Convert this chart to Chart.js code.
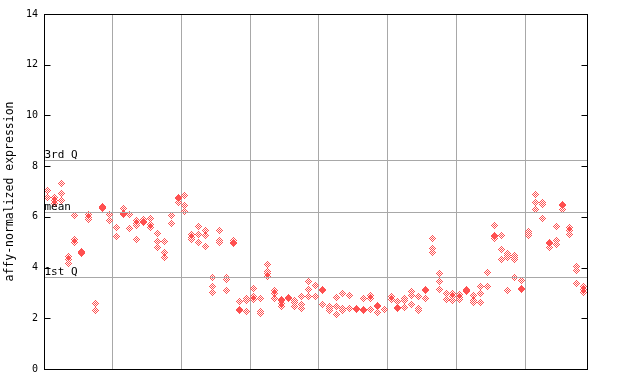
<!DOCTYPE html>
<html>
<head>
<meta charset="utf-8">
<script src="https://cdn.jsdelivr.net/npm/chart.js@4/dist/chart.umd.min.js"></script>
<style>
  html, body { margin: 0; padding: 0; background: #fff; }
  #wrap { width: 640px; height: 384px; }
</style>
</head>
<body>
<div id="wrap"><canvas id="myChart" width="640" height="384"></canvas></div>
<script>
// expression values per sample (replicates)
const expression = [
  [7.05, 6.77], [6.77, 6.64, 6.53], [7.32, 6.93, 6.66], [4.42, 4.32, 4.17],
  [6.06, 5.09, 4.98], [4.65, 4.6, 4.56], [6.1, 5.98, 5.88], [2.59, 2.31],
  [6.42, 6.36, 6.32], [6.1, 5.85], [5.6, 5.58, 5.23], [6.33, 6.12, 6.1],
  [6.11, 5.54], [5.84, 5.74, 5.66, 5.1], [5.88, 5.8, 5.76], [5.93, 5.7, 5.6],
  [5.35, 5.03, 4.8], [5.03, 4.6, 4.39], [6.06, 5.74], [6.76, 6.72, 6.55],
  [6.85, 6.45, 6.22], [5.31, 5.2, 5.11], [5.63, 5.31, 5.0], [5.48, 5.28, 4.84],
  [3.59, 3.24, 3.02], [5.47, 5.08, 5.0], [3.59, 3.51, 3.1], [5.07, 5.0, 4.96],
  [2.67, 2.36, 2.32], [2.77, 2.69, 2.27], [3.18, 2.85, 2.76], [2.79, 2.27, 2.2],
  [4.13, 3.85, 3.77, 3.66], [3.09, 2.98, 2.79], [2.74, 2.7, 2.6, 2.47], [2.83, 2.8, 2.78],
  [2.71, 2.62, 2.47], [2.87, 2.56, 2.39], [3.46, 3.14, 2.87], [3.3, 2.87],
  [3.15, 3.11, 2.55], [2.48, 2.39, 2.31], [2.83, 2.47, 2.16], [2.98, 2.38, 2.31],
  [2.9, 2.39], [2.39, 2.36, 2.34], [2.79, 2.36, 2.32], [2.88, 2.8, 2.35],
  [2.52, 2.48, 2.24], [2.34], [2.84, 2.76], [2.68, 2.44, 2.37],
  [2.8, 2.72, 2.44], [3.04, 2.88, 2.56], [2.84, 2.37, 2.29], [3.15, 3.08, 2.8],
  [5.15, 4.76, 4.6], [3.77, 3.46, 3.14], [2.98, 2.75], [2.98, 2.87, 2.71],
  [2.95, 2.83, 2.75], [3.15, 3.1, 3.06], [2.9, 2.71, 2.63], [3.27, 2.98, 2.63],
  [3.81, 3.26], [5.66, 5.25, 5.21, 5.15], [5.27, 4.72, 4.33], [4.56, 4.48, 4.4, 3.1],
  [4.46, 4.38, 4.3, 3.62], [3.5, 3.18, 3.14], [5.43, 5.35, 5.27], [6.89, 6.57, 6.3],
  [6.58, 6.5, 6.47, 5.94], [5.0, 4.96, 4.8], [5.62, 5.05, 4.92], [6.5, 6.46, 6.3],
  [5.59, 5.48, 5.31], [4.05, 3.89, 3.38], [3.26, 3.14, 3.02]
];

// group separators (between every 10 samples)
const groupLines = [9.5, 19.5, 29.5, 39.5, 49.5, 59.5, 69.5];

// summary lines
const refLines = [
  { label: '3rd Q', value: 8.23 },
  { label: 'mean', value: 6.21 },
  { label: '1st Q', value: 3.63 }
];

const yTicks = [0, 2, 4, 6, 8, 10, 12, 14];
const yTitle = 'affy-normalized expression';

const red = 'rgb(255,80,80)';
const grey = '#a8a8a8';
const mono = "'DejaVu Sans Mono', monospace";

// dithered diamond marker
function makeMarker() {
  var c = document.createElement('canvas');
  c.width = 7; c.height = 7;
  var g = c.getContext('2d');
  g.fillStyle = red;
  for (var py = 0; py < 7; py++) {
    for (var px = 0; px < 7; px++) {
      var d = Math.abs(px - 3) + Math.abs(py - 3);
      if (d <= 3 && d % 2 == 1) g.fillRect(px, py, 1, 1);
    }
  }
  return c;
}
const marker = makeMarker();

let points = [];
expression.forEach(function (vals, i) {
  vals.forEach(function (v) { points.push({ x: i, y: v }); });
});

const framePlugin = {
  id: 'frame',
  beforeDatasetsDraw(chart) {
    chart.ctx.imageSmoothingEnabled = false;
  },
  afterDraw(chart) {
    const ctx = chart.ctx;
    const a = chart.chartArea;
    const y = chart.scales.y;
    const L = Math.round(a.left) + 0.5, R = Math.round(a.right) + 0.5;
    const T = Math.round(a.top) + 0.5, B = Math.round(a.bottom) + 0.5;
    ctx.save();
    // quartile / mean lines
    ctx.strokeStyle = grey;
    ctx.lineWidth = 1;
    refLines.forEach(function (r) {
      const py = Math.round(y.getPixelForValue(r.value)) + 0.5;
      ctx.beginPath();
      ctx.moveTo(L, py); ctx.lineTo(R, py);
      ctx.stroke();
    });
    // frame
    ctx.strokeStyle = '#000';
    ctx.strokeRect(L, T, R - L, B - T);
    // inward ticks
    yTicks.forEach(function (v) {
      const py = Math.round(y.getPixelForValue(v)) + 0.5;
      ctx.beginPath();
      ctx.moveTo(L, py); ctx.lineTo(L + 6, py);
      ctx.moveTo(R - 6, py); ctx.lineTo(R, py);
      ctx.stroke();
    });
    // labels
    ctx.fillStyle = '#000';
    ctx.font = '11px ' + mono;
    ctx.textAlign = 'left';
    ctx.textBaseline = 'bottom';
    refLines.forEach(function (r) {
      const py = Math.round(y.getPixelForValue(r.value));
      ctx.fillText(r.label, L, py + 1);
    });
    ctx.restore();
  }
};

const config = {
  type: 'scatter',
  data: {
    datasets: [{
      data: points,
      pointStyle: marker,
      pointRadius: 3.5,
      pointHoverRadius: 3.5,
      borderColor: red,
      backgroundColor: red
    }]
  },
  options: {
    responsive: false,
    animation: false,
    events: [],
    layout: { padding: { top: 14, right: 53, bottom: 15, left: 0 } },
    plugins: { legend: { display: false }, tooltip: { enabled: false } },
    scales: {
      x: {
        type: 'linear',
        min: -0.5,
        max: expression.length - 0.5,
        afterBuildTicks: function (scale) {
          scale.ticks = groupLines.map(v => ({ value: v }));
        },
        afterFit: function (scale) { scale.height = 0; },
        ticks: { display: false },
        border: { display: false },
        grid: { color: grey, drawTicks: false, lineWidth: 1 }
      },
      y: {
        min: 0,
        max: 14,
        afterBuildTicks: function (scale) {
          scale.ticks = yTicks.map(v => ({ value: v }));
        },
        afterFit: function (scale) { scale.width = 44; },
        ticks: { color: '#000', font: { family: mono, size: 10 }, padding: 6 },
        border: { display: false },
        grid: { display: false, drawTicks: false },
        title: {
          display: true,
          text: yTitle,
          color: '#000',
          font: { family: mono, size: 11.5 },
          padding: { top: 3, bottom: 0 }
        }
      }
    }
  },
  plugins: [framePlugin]
};

const myChart = new Chart(document.getElementById('myChart'), config);
</script>
</body>
</html>
